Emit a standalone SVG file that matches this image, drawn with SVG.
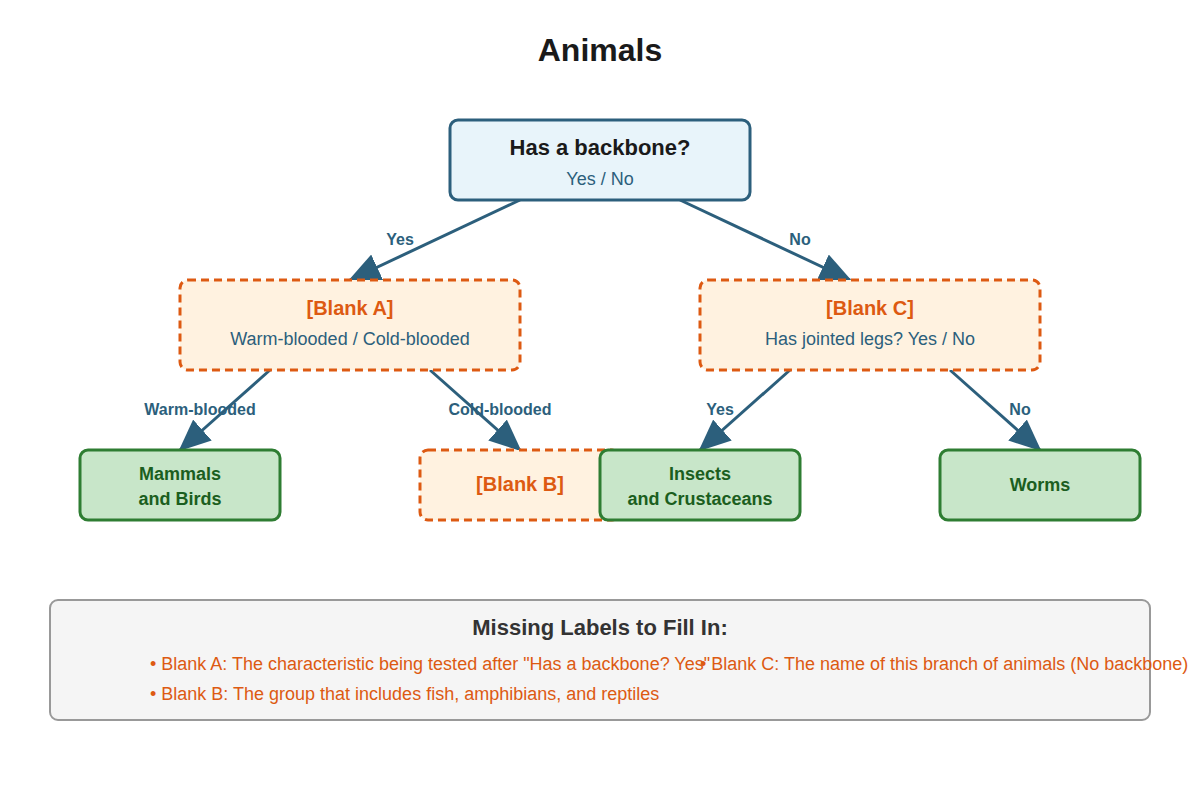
<svg xmlns="http://www.w3.org/2000/svg" width="1200" height="800" viewBox="0 0 1200 800">
<style>
text{font-family:"Liberation Sans",Arial,sans-serif;text-anchor:middle}
.q{fill:#e8f4fa;stroke:#2c5f7c;stroke-width:3}
.b{fill:#fff2e0;stroke:#dd5a12;stroke-width:3;stroke-dasharray:8 5}
.g{fill:#c8e6c9;stroke:#2e7d32;stroke-width:3}
.c{stroke:#2c5f7c;stroke-width:3;fill:none;marker-end:url(#ah)}
.el{font-size:16px;font-weight:bold;fill:#2c5f7c}
.bt{font-size:20px;font-weight:bold;fill:#dd5a12}
.st{font-size:18px;fill:#2c5f7c}
.gt{font-size:18px;font-weight:bold;fill:#1b5e20}
.li{font-size:18px;fill:#dd5a12;text-anchor:start}
</style>
<defs><marker id="ah" markerUnits="userSpaceOnUse" markerWidth="32" markerHeight="28" refX="30" refY="14" orient="auto" viewBox="0 0 32 28"><path d="M0,0 L32,14 L0,28 Z" fill="#2c5f7c"/></marker></defs>
<rect width="1200" height="800" fill="#fff"/>
<text x="600" y="61" font-size="32" font-weight="bold" fill="#1a1a1a">Animals</text>
<g id="connectors">
<line class="c" x1="520" y1="200" x2="350" y2="280"/>
<line class="c" x1="680" y1="200" x2="850" y2="280"/>
<line class="c" x1="270" y1="370" x2="180" y2="450"/>
<line class="c" x1="430" y1="370" x2="520" y2="450"/>
<line class="c" x1="790" y1="370" x2="700" y2="450"/>
<line class="c" x1="950" y1="370" x2="1040" y2="450"/>
<text class="el" x="400" y="245">Yes</text>
<text class="el" x="800" y="245">No</text>
<text class="el" x="200" y="415" font-size="15">Warm-blooded</text>
<text class="el" x="500" y="415" font-size="15">Cold-blooded</text>
<text class="el" x="720" y="415" font-size="15">Yes</text>
<text class="el" x="1020" y="415" font-size="15">No</text>
</g>
<g id="root"><rect class="q" x="450" y="120" width="300" height="80" rx="8"/>
<text x="600" y="155" font-size="22" font-weight="bold" fill="#1a1a1a">Has a backbone?</text>
<text class="st" x="600" y="185" font-size="20">Yes / No</text></g>
<g id="blankA"><rect class="b" x="180" y="280" width="340" height="90" rx="8"/>
<text class="bt" x="350" y="315">[Blank A]</text>
<text class="st" x="350" y="345">Warm-blooded / Cold-blooded</text></g>
<g id="blankC"><rect class="b" x="700" y="280" width="340" height="90" rx="8"/>
<text class="bt" x="870" y="315">[Blank C]</text>
<text class="st" x="870" y="345">Has jointed legs? Yes / No</text></g>
<g id="mammals"><rect class="g" x="80" y="450" width="200" height="70" rx="8"/>
<text class="gt" x="180" y="480">Mammals</text><text class="gt" x="180" y="505">and Birds</text></g>
<g id="blankB"><rect class="b" x="420" y="450" width="200" height="70" rx="8"/>
<text class="bt" x="520" y="491">[Blank B]</text></g>
<g id="insects"><rect class="g" x="600" y="450" width="200" height="70" rx="8"/>
<text class="gt" x="700" y="480">Insects</text><text class="gt" x="700" y="505">and Crustaceans</text></g>
<g id="worms"><rect class="g" x="940" y="450" width="200" height="70" rx="8"/>
<text class="gt" x="1040" y="491">Worms</text></g>
<g id="legend"><rect x="50" y="600" width="1100" height="120" rx="8" fill="#f5f5f5" stroke="#999" stroke-width="2"/>
<text x="600" y="635" font-size="22" font-weight="bold" fill="#333">Missing Labels to Fill In:</text>
<text class="li" x="150" y="670">• Blank A: The characteristic being tested after "Has a backbone? Yes"</text>
<text class="li" x="700" y="670">• Blank C: The name of this branch of animals (No backbone)</text>
<text class="li" x="150" y="700">• Blank B: The group that includes fish, amphibians, and reptiles</text></g>
</svg>
